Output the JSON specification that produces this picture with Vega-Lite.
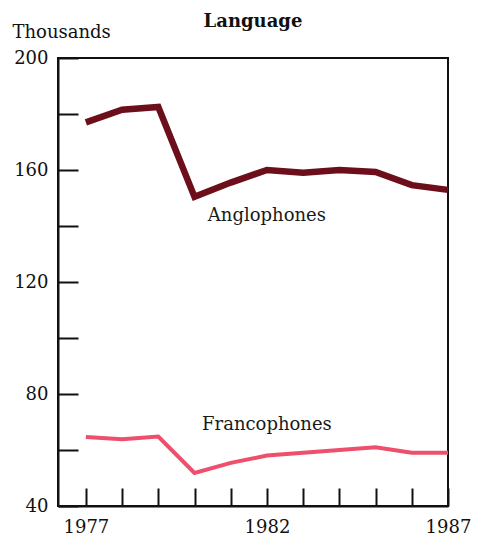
{
  "$schema": "https://vega.github.io/schema/vega-lite/v6.json",
  "width": 390,
  "height": 448,
  "autosize": {"type": "none"},
  "padding": {"left": 58, "top": 58, "right": 31, "bottom": 31},
  "background": "white",
  "title": {
    "text": "Language",
    "font": "DejaVu Serif",
    "fontSize": 18,
    "fontWeight": "bold",
    "color": "#111",
    "anchor": "middle",
    "frame": "group",
    "baseline": "alphabetic",
    "offset": -22
  },
  "config": {
    "view": {"stroke": "#111", "strokeWidth": 2},
    "axis": {
      "labelFont": "DejaVu Serif",
      "labelFontSize": 18,
      "labelColor": "#111",
      "domainColor": "#111",
      "domainWidth": 2,
      "tickColor": "#111",
      "tickWidth": 2,
      "grid": false,
      "titleFont": "DejaVu Serif",
      "titleFontSize": 18,
      "titleFontWeight": "normal",
      "titleColor": "#111"
    }
  },
  "datasets": {
    "lines": [
      {"year": 1977, "value": 177.0, "series": "Anglophones"},
      {"year": 1978, "value": 181.5, "series": "Anglophones"},
      {"year": 1979, "value": 182.5, "series": "Anglophones"},
      {"year": 1980, "value": 150.4, "series": "Anglophones"},
      {"year": 1981, "value": 155.5, "series": "Anglophones"},
      {"year": 1982, "value": 160.0, "series": "Anglophones"},
      {"year": 1983, "value": 159.0, "series": "Anglophones"},
      {"year": 1984, "value": 160.0, "series": "Anglophones"},
      {"year": 1985, "value": 159.3, "series": "Anglophones"},
      {"year": 1986, "value": 154.6, "series": "Anglophones"},
      {"year": 1987, "value": 152.9, "series": "Anglophones"},
      {"year": 1977, "value": 64.6, "series": "Francophones"},
      {"year": 1978, "value": 63.8, "series": "Francophones"},
      {"year": 1979, "value": 64.8, "series": "Francophones"},
      {"year": 1980, "value": 51.8, "series": "Francophones"},
      {"year": 1981, "value": 55.4, "series": "Francophones"},
      {"year": 1982, "value": 58.0, "series": "Francophones"},
      {"year": 1983, "value": 59.0, "series": "Francophones"},
      {"year": 1984, "value": 60.0, "series": "Francophones"},
      {"year": 1985, "value": 61.0, "series": "Francophones"},
      {"year": 1986, "value": 59.0, "series": "Francophones"},
      {"year": 1987, "value": 59.0, "series": "Francophones"}
    ],
    "labels": [
      {"year": 1982, "value": 143.6, "label": "Anglophones"},
      {"year": 1982, "value": 68.9, "label": "Francophones"}
    ]
  },
  "layer": [
    {
      "data": {"name": "lines"},
      "mark": {"type": "line", "strokeJoin": "miter"},
      "encoding": {
        "x": {
          "field": "year",
          "type": "quantitative",
          "scale": {"domain": [1976.23, 1987], "nice": false, "zero": false},
          "axis": {
            "title": null,
            "values": [1977, 1978, 1979, 1980, 1981, 1982, 1983, 1984, 1985, 1986, 1987],
            "tickCount": 30,
            "format": "d",
            "labelExpr": "datum.value % 5 == 2 ? datum.label : ''",
            "tickSize": -18,
            "labelPadding": 30,
            "labelOverlap": false,
            "labelFlush": false
          }
        },
        "y": {
          "field": "value",
          "type": "quantitative",
          "scale": {"domain": [40, 200], "nice": false, "zero": false},
          "axis": {
            "title": "Thousands",
            "titleAngle": 0,
            "titleAlign": "left",
            "titleBaseline": "middle",
            "titleX": -46,
            "titleY": -26,
            "values": [40, 60, 80, 100, 120, 140, 160, 180, 200],
            "tickCount": 30,
            "labelExpr": "datum.value % 40 == 0 ? datum.label : ''",
            "tickSize": -20,
            "labelPadding": 30,
            "labelOverlap": false,
            "labelFlush": false
          }
        },
        "color": {
          "field": "series",
          "type": "nominal",
          "scale": {"domain": ["Anglophones", "Francophones"], "range": ["#6c0f1b", "#ee4f6c"]},
          "legend": null
        },
        "strokeWidth": {
          "field": "series",
          "type": "nominal",
          "scale": {"domain": ["Anglophones", "Francophones"], "range": [6.5, 4]},
          "legend": null
        }
      }
    },
    {
      "data": {"name": "labels"},
      "mark": {"type": "text", "font": "DejaVu Serif", "fontSize": 18, "color": "#1a1a1a", "align": "center", "baseline": "middle"},
      "encoding": {
        "x": {"field": "year", "type": "quantitative"},
        "y": {"field": "value", "type": "quantitative"},
        "text": {"field": "label"}
      }
    }
  ]
}
